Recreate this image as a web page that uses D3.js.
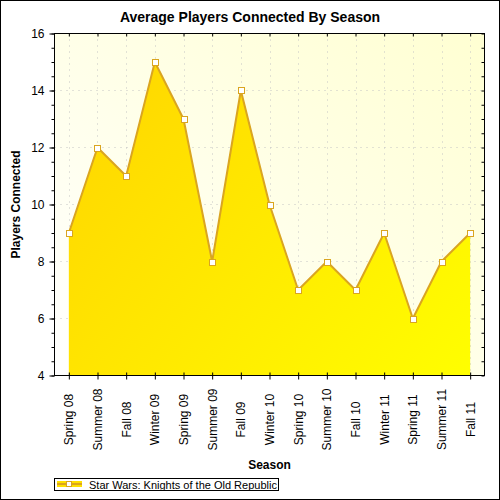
<!DOCTYPE html>
<html>
<head>
<meta charset="utf-8">
<script src="https://cdn.jsdelivr.net/npm/d3@7/dist/d3.min.js"></script>
<style>
body { margin: 0; background: #fff; }
svg { display: block; font-family: 'Liberation Sans', Arial, sans-serif; }
</style>
</head>
<body>
<svg width="500" height="500"></svg>
<script>
'use strict'

let seasons = ['Spring 08', 'Summer 08', 'Fall 08', 'Winter 09', 'Spring 09', 'Summer 09',
	'Fall 09', 'Winter 10', 'Spring 10', 'Summer 10', 'Fall 10', 'Winter 11',
	'Spring 11', 'Summer 11', 'Fall 11']
let players = [9, 12, 11, 15, 13, 8, 14, 10, 7, 8, 7, 9, 6, 8, 9]
let y_ticks = [4, 6, 8, 10, 12, 14, 16]
let series_name = 'Star Wars: Knights of the Old Republic'

let plot = {left: 54.5, top: 33.5, right: 484.5, bottom: 375.5},
	line_c = '#daa520'

let svg = d3.select('svg')
let defs = svg.append('defs')
defs.append('linearGradient').attr('id', 'bg')
	.attr('x1', 0).attr('y1', 1).attr('x2', 1).attr('y2', 0)
	.call(g => {
		g.append('stop').attr('offset', 0).attr('stop-color', '#ffffff')
		g.append('stop').attr('offset', 1).attr('stop-color', '#ffffd2') })
defs.append('linearGradient').attr('id', 'fill')
	.attr('gradientUnits', 'userSpaceOnUse')
	.attr('x1', plot.left).attr('y1', plot.top).attr('x2', plot.right).attr('y2', plot.bottom)
	.call(g => {
		g.append('stop').attr('offset', 0).attr('stop-color', '#ffd200')
		g.append('stop').attr('offset', 1).attr('stop-color', '#ffff00') })

let x = d3.scalePoint().domain(seasons).range([plot.left, plot.right]).padding(0.5),
	y = d3.scaleLinear().domain([4, 16]).range([plot.bottom, plot.top]),
	data = d3.zip(seasons, players)

svg.append('rect').attr('x', 0.5).attr('y', 0.5).attr('width', 499).attr('height', 499)
	.attr('fill', '#fff').attr('stroke', '#000')

svg.append('rect').attr('x', plot.left).attr('y', plot.top)
	.attr('width', plot.right - plot.left).attr('height', plot.bottom - plot.top)
	.attr('fill', 'url(#bg)')

// grid
svg.append('g').attr('stroke', '#c4c4c4').attr('stroke-dasharray', '1,5')
	.call(g => {
		g.selectAll('.vg').data(seasons).join('line')
			.attr('x1', d => Math.round(x(d)) + 0.5).attr('x2', d => Math.round(x(d)) + 0.5)
			.attr('y1', plot.top).attr('y2', plot.bottom)
		g.selectAll('.hg').data(y_ticks.slice(1, -1)).join('line')
			.attr('y1', d => y(d)).attr('y2', d => y(d))
			.attr('x1', plot.left).attr('x2', plot.right) })

// series
svg.append('path').datum(data)
	.attr('fill', 'url(#fill)')
	.attr('d', d3.area().x(d => x(d[0])).y0(y(4)).y1(d => y(d[1])))
svg.append('path').datum(data)
	.attr('fill', 'none').attr('stroke', line_c).attr('stroke-width', 2)
	.attr('stroke-linejoin', 'round')
	.attr('d', d3.line().x(d => x(d[0])).y(d => y(d[1])))
svg.append('g').selectAll('rect').data(data).join('rect')
	.attr('x', d => Math.round(x(d[0])) - 3 + 0.5).attr('y', d => Math.round(y(d[1])) - 3 + 0.5)
	.attr('width', 6).attr('height', 6)
	.attr('fill', '#fff').attr('stroke', line_c)

// frame + axes
svg.append('rect').attr('x', plot.left).attr('y', plot.top)
	.attr('width', plot.right - plot.left).attr('height', plot.bottom - plot.top)
	.attr('fill', 'none').attr('stroke', '#000')

let minor = d3.range(4, 16.01, 0.5)
svg.append('g').attr('transform', `translate(${plot.left} 0)`)
	.call(d3.axisLeft(y).tickValues(minor).tickSize(3).tickFormat(''))
	.call(g => g.select('.domain').remove())
svg.append('g').attr('transform', `translate(${plot.left} 0)`)
	.call(d3.axisLeft(y).tickValues(y_ticks).tickSize(5).tickPadding(5).tickFormat(d3.format('d')))
	.call(g => g.select('.domain').remove())
	.call(g => g.selectAll('text').attr('font-size', 12).attr('fill', '#000')
		.attr('font-family', "'Liberation Sans', Arial, sans-serif"))
svg.append('g').attr('transform', `translate(${plot.right} 0)`)
	.call(d3.axisLeft(y).tickValues(minor).tickSize(3).tickFormat(''))
	.call(g => g.select('.domain').remove())

svg.append('g').attr('transform', `translate(0 ${plot.top})`)
	.call(d3.axisBottom(x).tickSize(3).tickFormat(''))
	.call(g => g.select('.domain').remove())
svg.append('g').attr('transform', `translate(0 ${plot.bottom})`)
	.call(d3.axisBottom(x).tickSizeInner(4).tickSizeOuter(0))
	.call(g => g.select('.domain').remove())
	.call(g => g.selectAll('.tick line').attr('y1', -3))
	.call(g => g.selectAll('text')
		.attr('font-size', 12).attr('fill', '#000')
		.attr('font-family', "'Liberation Sans', Arial, sans-serif")
		.attr('text-anchor', 'middle').attr('dy', null)
		.attr('transform', 'translate(4 44) rotate(-90)').attr('x', 0).attr('y', 0))

// titles
svg.append('text').attr('x', 250).attr('y', 22).attr('text-anchor', 'middle')
	.attr('font-size', 14).attr('font-weight', 'bold').text('Average Players Connected By Season')
svg.append('text').attr('x', 269.5).attr('y', 469).attr('text-anchor', 'middle')
	.attr('font-size', 12).attr('font-weight', 'bold').text('Season')
svg.append('text').attr('transform', `translate(20 ${(plot.top + plot.bottom) / 2}) rotate(-90)`)
	.attr('text-anchor', 'middle')
	.attr('font-size', 12).attr('font-weight', 'bold').text('Players Connected')

// legend
let lg = svg.append('g')
lg.append('rect').attr('x', 54.5).attr('y', 478.5).attr('width', 224).attr('height', 12)
	.attr('fill', '#fff').attr('stroke', '#000')
lg.append('rect').attr('x', 57).attr('y', 481).attr('width', 25).attr('height', 6).attr('fill', '#ffe000')
lg.append('line').attr('x1', 57).attr('x2', 82).attr('y1', 484).attr('y2', 484)
	.attr('stroke', line_c).attr('stroke-width', 2)
lg.append('rect').attr('x', 66.5).attr('y', 481.5).attr('width', 5).attr('height', 5)
	.attr('fill', '#fff').attr('stroke', line_c)
lg.append('text').attr('x', 89).attr('y', 488.5).attr('font-size', 11).text(series_name)
</script>
</body>
</html>
